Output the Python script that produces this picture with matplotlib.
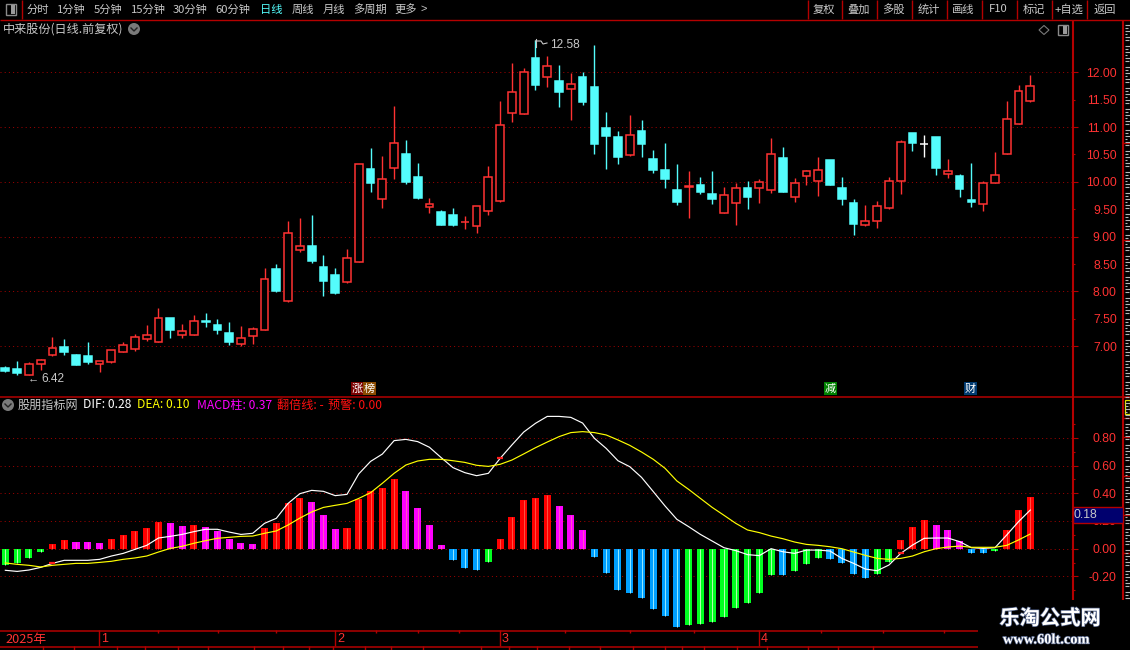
import matplotlib
matplotlib.use("Agg")
import matplotlib.pyplot as plt
from matplotlib.patches import Rectangle, Circle, Polygon
from matplotlib.ticker import FixedLocator, FormatStrFormatter
import matplotlib.patheffects as pe
import numpy as np

plt.rcParams['font.family'] = ['Noto Sans CJK SC', 'DejaVu Sans']

# daily candles
open_ = [6.60, 6.59, 6.48, 6.67, 6.84, 6.99, 6.84, 6.82, 6.68, 6.71,
         6.90, 6.95, 7.14, 7.07, 7.52, 7.20, 7.20, 7.46, 7.39, 7.24,
         7.05, 7.18, 7.30, 8.41, 7.83, 8.76, 8.83, 8.45, 8.30, 8.18,
         8.54, 10.24, 9.69, 10.25, 10.51, 10.09, 9.55, 9.45, 9.40, 9.26,
         9.20, 9.46, 9.65, 11.25, 11.23, 12.26, 11.91, 11.84, 11.70, 11.91,
         11.73, 10.98, 10.82, 10.49, 10.93, 10.42, 10.22, 9.85, 9.90, 9.94,
         9.78, 9.43, 9.61, 9.89, 9.89, 9.85, 10.44, 9.72, 10.11, 10.02,
         10.40, 9.89, 9.61, 9.21, 9.29, 9.52, 10.02, 10.89, 10.70, 10.82,
         10.14, 10.11, 9.67, 9.60, 9.98, 10.51, 11.06, 11.48]
close = [6.55, 6.51, 6.68, 6.75, 6.97, 6.90, 6.66, 6.71, 6.73, 6.93,
         7.02, 7.17, 7.21, 7.52, 7.30, 7.28, 7.46, 7.45, 7.30, 7.08,
         7.15, 7.32, 8.23, 8.01, 9.07, 8.83, 8.56, 8.19, 7.97, 8.61,
         10.32, 9.98, 10.05, 10.71, 10.00, 9.71, 9.60, 9.21, 9.21, 9.27,
         9.56, 10.09, 11.03, 11.64, 12.01, 11.77, 12.12, 11.64, 11.79, 11.46,
         10.69, 10.84, 10.45, 10.86, 10.69, 10.22, 10.05, 9.63, 9.92, 9.82,
         9.69, 9.76, 9.89, 9.72, 10.00, 10.51, 9.82, 9.98, 10.20, 10.22,
         9.94, 9.69, 9.23, 9.28, 9.56, 10.02, 10.73, 10.71, 10.70, 10.25,
         10.20, 9.87, 9.63, 9.98, 10.13, 11.15, 11.66, 11.75]
high = [6.64, 6.73, 6.71, 6.77, 7.17, 7.13, 6.86, 7.08, 6.73, 6.93,
        7.08, 7.23, 7.39, 7.70, 7.52, 7.41, 7.57, 7.61, 7.50, 7.44,
        7.37, 7.35, 8.43, 8.50, 9.29, 9.34, 9.40, 8.67, 8.43, 8.78,
        10.32, 10.62, 10.47, 11.38, 10.76, 10.35, 9.71, 9.49, 9.52, 9.38,
        9.56, 10.29, 11.48, 12.17, 12.08, 12.58, 12.30, 12.13, 11.99, 12.01,
        12.50, 11.28, 10.93, 11.22, 11.13, 10.58, 10.71, 10.33, 10.20, 10.09,
        10.20, 9.91, 9.98, 10.02, 10.05, 10.80, 10.64, 10.07, 10.22, 10.45,
        10.40, 10.09, 9.69, 9.58, 9.65, 10.09, 10.76, 10.89, 10.86, 10.82,
        10.42, 10.14, 10.34, 10.02, 10.55, 11.48, 11.77, 11.95]
low = [6.53, 6.48, 6.48, 6.57, 6.82, 6.84, 6.66, 6.68, 6.53, 6.70,
       6.90, 6.91, 7.10, 7.07, 7.15, 7.15, 7.20, 7.35, 7.23, 7.02,
       7.01, 7.04, 7.30, 7.99, 7.81, 8.72, 8.52, 7.92, 7.95, 8.16,
       8.53, 9.82, 9.52, 10.05, 9.96, 9.69, 9.43, 9.21, 9.19, 9.14,
       9.07, 9.40, 9.63, 11.09, 11.23, 11.68, 11.73, 11.37, 11.13, 11.40,
       10.51, 10.24, 10.33, 10.47, 10.45, 10.16, 9.89, 9.58, 9.34, 9.78,
       9.60, 9.43, 9.21, 9.50, 9.61, 9.80, 9.82, 9.63, 9.94, 9.74,
       9.94, 9.58, 9.03, 9.19, 9.16, 9.50, 9.78, 10.56, 10.45, 10.13,
       10.07, 9.72, 9.54, 9.47, 9.98, 10.51, 11.06, 11.46]

# MACD panel
hist = [-.118, -.103, -.067, -.024, .034, .063, .048, .048, .041, .07,
        .099, .128, .149, .193, .185, .164, .171, .156, .128, .07,
        .041, .034, .149, .185, .33, .366, .337, .243, .142, .149,
        .359, .416, .438, .503, .416, .294, .171, .026, -.082, -.14,
        -.154, -.096, .07, .229, .351, .366, .387, .308, .243, .135,
        -.06, -.176, -.298, -.32, -.356, -.436, -.486, -.566, -.551, -.544,
        -.529, -.493, -.428, -.392, -.32, -.19, -.19, -.161, -.111, -.067,
        -.075, -.103, -.183, -.212, -.183, -.096, .063, .156, .207, .171,
        .135, .055, -.031, -.031, -.017, .135, .279, .373]
dif = [-.156, -.164, -.154, -.135, -.106, -.084, -.084, -.084, -.077, -.053,
       -.034, -.005, .024, .077, .089, .103, .123, .14, .14, .12,
       .103, .111, .183, .219, .327, .397, .421, .414, .383, .392,
       .54, .63, .683, .78, .789, .773, .732, .657, .585, .549,
       .527, .544, .652, .749, .842, .905, .955, .955, .948, .907,
       .797, .724, .635, .592, .515, .412, .308, .212, .159, .103,
       .055, .007, -.014, -.043, -.05, 0, -.022, -.034, -.01, -.01,
       -.017, -.07, -.106, -.147, -.159, -.118, -.034, .026, .075, .077,
       .077, .051, .007, .002, .007, .099, .195, .279]
dea = [-.103, -.113, -.12, -.132, -.12, -.113, -.106, -.106, -.099, -.091,
       -.077, -.067, -.053, -.024, .002, .017, .039, .058, .075, .082,
       .089, .091, .111, .128, .171, .221, .265, .298, .313, .327,
       .363, .404, .472, .544, .604, .633, .645, .645, .635, .623,
       .602, .594, .609, .64, .684, .729, .77, .809, .838, .845,
       .838, .821, .785, .746, .698, .645, .58, .489, .428, .363,
       .298, .241, .183, .135, .116, .091, .072, .048, .031, .024,
       .014, 0, -.024, -.048, -.07, -.077, -.07, -.053, -.022, 0,
       .012, .019, .01, .01, .01, .024, .063, .106]
cross_idx = [4, 42, 76]

price_major = [7, 8, 9, 10, 11, 12]
price_minor = [7.5, 8.5, 9.5, 10.5, 11.5]
macd_major = [-0.2, 0, 0.2, 0.4, 0.6, 0.8]
macd_minor = [-0.3, -0.1, 0.1, 0.3, 0.5, 0.7, 0.9]

left_menu = ['分时', '1分钟', '5分钟', '15分钟', '30分钟', '60分钟', '日线', '周线', '月线', '多周期', '更多']
right_menu = ['复权', '叠加', '多股', '统计', '画线', 'F10', '标记', '+自选', '返回']
months = ['1', '2', '3', '4']

W, H = 1130, 650
BG = 'black'
LINE = '#B40000'
RED = '#FF3232'
CYAN = '#54FCFC'
GREY = '#C8C8C8'
GRID = '#A00000'

fig = plt.figure(figsize=(W / 100, H / 100), dpi=100, facecolor=BG)


def panel(top, bottom):
    a = fig.add_axes([0, 1 - bottom / H, 1072 / W, (bottom - top) / H])
    a.set_facecolor('none')
    for s in a.spines.values():
        s.set_visible(False)
    a.set_xlim(-0.453, 90.54)
    a.set_xticks([])
    a.yaxis.tick_right()
    return a


def y_axis(a, major, minor, fmt, label_minor=False):
    a.yaxis.set_major_locator(FixedLocator(major))
    a.yaxis.set_minor_locator(FixedLocator(minor))
    a.yaxis.set_major_formatter(FormatStrFormatter(fmt))
    if label_minor:
        a.yaxis.set_minor_formatter(FormatStrFormatter(fmt))
    # tick length and pad are in points, the right edge of the labels sits at about x=1117
    a.tick_params(axis='y', which='major', length=4.3, width=0.8, color=LINE, labelcolor=RED,
                  labelsize=8.8, pad=28)
    a.tick_params(axis='y', which='minor', length=2.2, width=0.8, color=LINE, labelcolor=RED,
                  labelsize=8.8, pad=30.1)
    for lab in a.get_yticklabels() + a.get_yticklabels(minor=True):
        lab.set_ha('right')
        lab.set_fontfamily(['Liberation Sans'])
    a.grid(axis='y', which='major', color=GRID, linewidth=0.72, linestyle=(0, (1, 3.2)))
    a.set_axisbelow(True)


# candles
ax = panel(20, 396)
ax.set_ylim(6.093, 12.954)
y_axis(ax, price_major, price_minor, '%.2f', label_minor=True)
x = np.arange(len(open_))
for i in x:
    o, c = open_[i], close[i]
    col = RED if c > o else (CYAN if c < o else 'white')
    ax.vlines(i, low[i], high[i], color=col, linewidth=1.0, zorder=2)
    ax.bar(i, abs(c - o), bottom=min(o, c), width=0.66,
           facecolor=BG if c > o else col, edgecolor=col, linewidth=1.1, zorder=3)

# MACD
ax2 = panel(397, 630)
ax2.set_ylim(-0.587, 1.095)
y_axis(ax2, macd_major, macd_minor, '%.2f')
for i in x:
    v = hist[i]
    rising = i == 0 or v > hist[i - 1]
    if v >= 0:
        col, inner = ('#FF0000', '#FF5040') if rising else ('#FF00FF', '#FF50C0')
    else:
        col, inner = ('#00FF20', '#B0FFB0') if rising else ('#00A0FF', '#90E8FF')
    ax2.bar(i, v, width=0.6, color=col, linewidth=0, zorder=2)
    ax2.vlines(i, 0, v, color=inner, linewidth=0.72, zorder=3)
ax2.plot(x, dif, color='white', linewidth=0.85, zorder=4)
ax2.plot(x, dea, color='#FFFF00', linewidth=0.85, zorder=5)
ax2.plot(x[cross_idx], np.array(dif)[cross_idx], linestyle='none', marker='_',
         color='#FF2020', markersize=4.5, markeredgewidth=1.6, zorder=6)

# screen furniture in pixel coordinates
ui = fig.add_axes([0, 0, 1, 1], zorder=5)
ui.set_xlim(0, W)
ui.set_ylim(H, 0)
ui.axis('off')
ui.patch.set_visible(False)


def hl(y, x0=0, x1=W, lw=1.0, c=LINE):
    ui.plot([x0, x1], [y, y], color=c, linewidth=lw, solid_capstyle='butt')


def vl(px, y0, y1, lw=1.0, c=LINE):
    ui.plot([px, px], [y0, y1], color=c, linewidth=lw, solid_capstyle='butt')


hl(19.5)
hl(396.5, lw=1.1)
hl(630.5, 0, 978, lw=1.1)
hl(646.5, 0, 978, lw=1.1)
vl(1072.5, 20, 600, lw=1.5)
vl(1123, 20, 600, lw=1.5)
vl(21.5, 0, 19)
for px in [807, 841, 876, 911, 946, 981, 1016, 1051, 1086]:
    vl(px + 0.5, 0, 19)
for yy in [142.5, 239.5, 397, 418, 437, 476, 515, 553]:
    hl(yy, 1123, W)

# the window edge cuts the side tabs off, only stubs of their strokes show
stubs = [6, 3, 5, 2, 6, 4, 0]
for k, yy in enumerate(range(24, 598, 3)):
    n = stubs[k % len(stubs)]
    if n:
        hl(yy + 0.5, 1124.5, 1124.5 + n, lw=0.8, c='#B8B8B8')
ui.add_patch(Rectangle((1125, 400), 5, 14, facecolor='none', edgecolor='#E0E000', linewidth=0.9))

# toolbar
ui.add_patch(Rectangle((5.5, 4), 10, 11, facecolor='none', edgecolor='#8A8A8A', linewidth=1, zorder=3))
ui.add_patch(Rectangle((11, 5), 4, 9, facecolor='#9A9A9A', edgecolor='none', zorder=3))
left_x = [37.5, 71.5, 108, 148, 190.5, 233, 271, 302.5, 333.5, 370, 406]
for s, px in zip(left_menu, left_x):
    ui.text(px, 9.5, s, color=CYAN if s == '日线' else GREY, fontsize=8.1, ha='center', va='center')
ui.text(424, 9, '>', color=GREY, fontsize=8, ha='center', va='center', family=['Liberation Sans'])
right_x = [824, 858.5, 893.5, 928.5, 963.5, 998.5, 1033.5, 1068.5, 1104.5]
for s, px in zip(right_menu, right_x):
    ui.text(px, 9.5, s, color=GREY, fontsize=8.1, ha='center', va='center')

# titles
ui.text(3, 29, '中来股份(日线.前复权)', color=GREY, fontsize=8.7, va='center')
for cx, cy in [(134, 29), (8, 405)]:
    ui.add_patch(Circle((cx, cy), 6, facecolor='#7A7A7A', edgecolor='none'))
    ui.plot([cx - 3, cx, cx + 3], [cy - 1, cy + 2, cy - 1], color='#222222', linewidth=1)
ui.add_patch(Polygon([(1044, 25.5), (1049, 30), (1044, 34.5), (1039, 30)], closed=True,
                     facecolor='none', edgecolor='#7A7A7A', linewidth=0.8))
ui.add_patch(Rectangle((1058, 25), 10, 10, facecolor='none', edgecolor='#8A8A8A', linewidth=1))
ui.add_patch(Rectangle((1063, 26), 4, 8, facecolor='#9A9A9A', edgecolor='none'))

# legend row of the indicator
legend_items = [('股朋指标网', 18, GREY), ('DIF: 0.28', 83, 'white'), ('DEA: 0.10', 137, '#FFFF00'),
                ('MACD柱: 0.37', 197, '#FF00FF'), ('翻倍线: -', 277, '#FF1010'), ('预警: 0.00', 328, '#FF1010')]
for s, px, c in legend_items:
    ui.text(px, 405, s, color=c, fontsize=8.7, va='center')

# extreme labels
ui.text(28, 378.5, '←', color=GREY, fontsize=8, va='center', family=['Liberation Sans'])
ui.text(41, 378.5, '6.42', color=GREY, fontsize=8.6, va='center', family=['Liberation Sans'])
ui.plot([535.5, 535.5], [39, 47], color=GREY, linewidth=0.8)
ui.plot([535.5, 541, 543, 547], [41, 41, 44, 43], color=GREY, linewidth=0.8)
ui.text(550, 45.5, '12.58', color=GREY, fontsize=8.6, va='center', family=['Liberation Sans'])

# event tags
tags = [('涨', 351, '#7A0000'), ('榜', 363, '#8A4A00'), ('减', 824, '#008000'), ('财', 964, '#003A70')]
for s, px, c in tags:
    ui.add_patch(Rectangle((px, 382), 13, 13, facecolor=c, edgecolor='none'))
    ui.text(px + 6.5, 388.5, s, color='white', fontsize=8, ha='center', va='center')

# current value box
ui.add_patch(Rectangle((1073, 507), 50, 16, facecolor='#00006E', edgecolor=LINE, linewidth=1, zorder=3))
ui.text(1074, 515, '0.18', color=GREY, fontsize=8.8, va='center', zorder=4, family=['Liberation Sans'])

# date strip
ui.text(5, 639, '2025年', color=RED, fontsize=9.2, va='center')
for s, px in zip(months, [98.5, 334.5, 499.5, 758.5]):
    vl(px, 630, 646)
    ui.text(px + 2.5, 639, s, color=RED, fontsize=9, va='center', family=['Liberation Sans'])
for px in [157, 217, 275, 375, 417, 458, 564, 629, 693, 820, 882, 943]:
    vl(px + 0.5, 630, 633)
for px in [42, 73, 116, 144, 177, 207, 253, 282, 308, 332, 364, 390, 422, 480, 508, 536,
           568, 599, 632, 664, 681, 703, 736, 766, 807, 837, 872]:
    vl(px + 0.5, 646, H)

# watermark block
ui.add_patch(Rectangle((978.5, 600), W - 978.5, 50, facecolor=BG, edgecolor='none', zorder=8))
shade = [pe.withStroke(linewidth=1.0, foreground='#4A5A80')]
ui.text(1050, 618, '乐淘公式网', color='white', fontsize=14.6, fontweight='bold', ha='center', va='center',
        zorder=9, path_effects=shade)
ui.text(1046, 640, 'www.60lt.com', color='white', fontsize=10.4, fontweight='bold', ha='center', va='center',
        zorder=9, family=['Liberation Serif'], path_effects=shade)

fig.savefig('out.png', dpi=100, facecolor=BG)
